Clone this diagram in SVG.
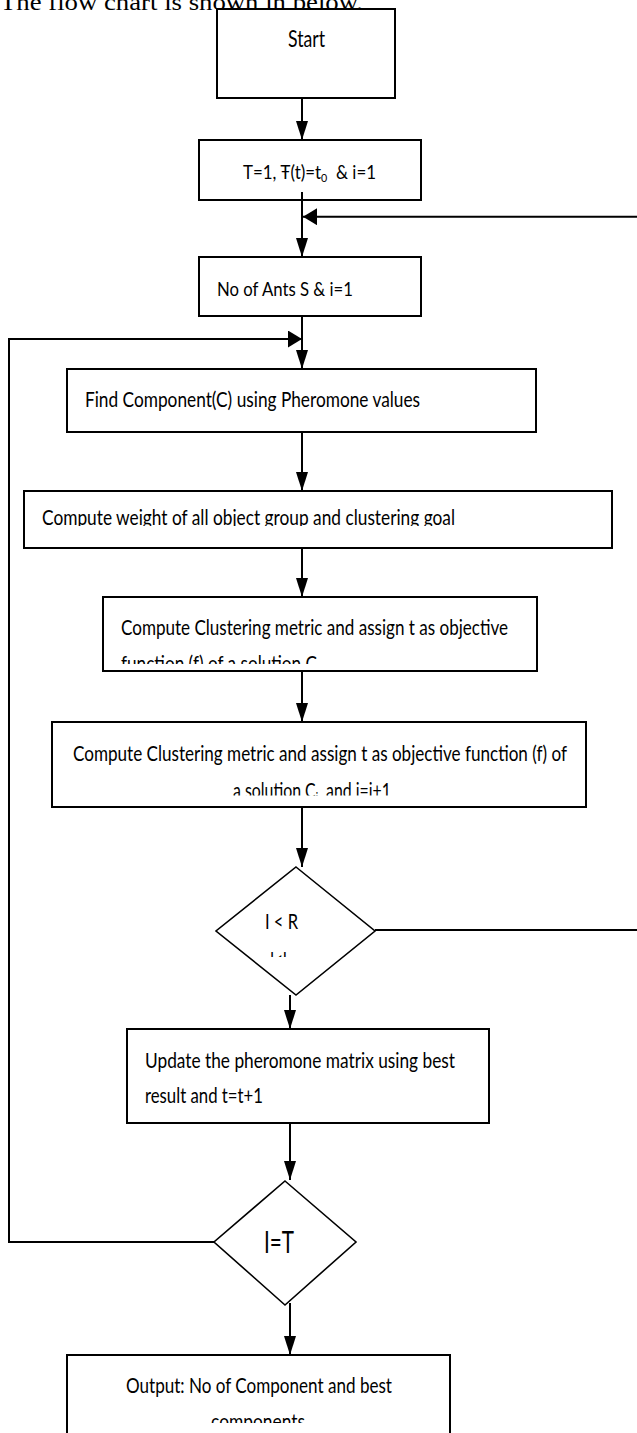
<svg xmlns="http://www.w3.org/2000/svg" width="637" height="1433" viewBox="0 0 637 1433">
<style>
.box{fill:#fff;stroke:#000;stroke-width:2}
.dia{fill:#fff;stroke:#000;stroke-width:1.6}
.t{font-family:Lato,"Liberation Sans",sans-serif;fill:#000}
.con{fill:none;stroke:#000;stroke-width:2}
</style>
<defs>
<marker id="av" markerWidth="19" markerHeight="12" refX="19" refY="6" orient="auto" markerUnits="userSpaceOnUse"><path d="M0,0 L19,6 L0,12 z" fill="#000"/></marker>
<marker id="ah" markerWidth="14" markerHeight="17" refX="14" refY="8.5" orient="auto" markerUnits="userSpaceOnUse"><path d="M0,0 L14,8.5 L0,17 z" fill="#000"/></marker>
<clipPath id="cCW"><rect x="24" y="491" width="588" height="35"/></clipPath>
<clipPath id="cB1"><rect x="100" y="597" width="440" height="67"/></clipPath>
<clipPath id="cB2"><rect x="50" y="722" width="540" height="73.5"/></clipPath>
<clipPath id="cD1"><rect x="216" y="867" width="160" height="90"/></clipPath>
<clipPath id="cOut"><rect x="67" y="1355" width="384" height="68"/></clipPath>
</defs>
<text x="0" y="10" font-family="'Liberation Serif',serif" font-size="24" textLength="363" lengthAdjust="spacingAndGlyphs">The flow chart is shown in below.</text>
<g id="connectors">
<path class="con" d="M302,98 V140" marker-end="url(#av)"/>
<path class="con" d="M302,192 V257" marker-end="url(#av)"/>
<path class="con" d="M375,930 H660 V216.7 H303" marker-end="url(#ah)"/>
<path class="con" d="M302,316 V369" marker-end="url(#av)"/>
<path class="con" d="M214,1242 H9 V339 H302" marker-end="url(#ah)"/>
<path class="con" d="M302,432 V491" marker-end="url(#av)"/>
<path class="con" d="M302,548 V597" marker-end="url(#av)"/>
<path class="con" d="M302,671 V722" marker-end="url(#av)"/>
<path class="con" d="M302,807 V867" marker-end="url(#av)"/>
<path class="con" d="M290,995 V1029" marker-end="url(#av)"/>
<path class="con" d="M290,1123 V1180" marker-end="url(#av)"/>
<path class="con" d="M290,1303 V1355" marker-end="url(#av)"/>
</g>
<g id="start">
<rect class="box" x="217" y="9" width="178" height="89"/>
<text class="t" x="288" y="47" font-size="23" textLength="37" lengthAdjust="spacingAndGlyphs">Start</text>
</g>
<g id="init">
<rect class="box" x="199" y="140" width="222" height="60"/>
<text class="t" x="243" y="179" font-size="19" textLength="133" lengthAdjust="spacingAndGlyphs">T=1, Ŧ(t)=t<tspan font-size="12" dy="3">0</tspan><tspan dy="-3" xml:space="preserve">  &amp; i=1</tspan></text>
</g>
<line class="con" x1="302" y1="192" x2="302" y2="200"/>
<g id="ants">
<rect class="box" x="199" y="257" width="222" height="59"/>
<text class="t" x="217" y="296" font-size="19" textLength="136" lengthAdjust="spacingAndGlyphs">No of Ants S &amp; i=1</text>
</g>
<g id="find">
<rect class="box" x="67" y="369" width="469" height="63"/>
<text class="t" x="85" y="407" font-size="21" textLength="335" lengthAdjust="spacingAndGlyphs">Find Component(C) using Pheromone values</text>
</g>
<g id="weight">
<rect class="box" x="24" y="491" width="588" height="57"/>
<text class="t" x="42" y="525" font-size="21" textLength="413" lengthAdjust="spacingAndGlyphs" clip-path="url(#cCW)">Compute weight of all object group and clustering goal</text>
</g>
<g id="metric1">
<rect class="box" x="103" y="597" width="434" height="74"/>
<text class="t" x="121" y="635" font-size="21" textLength="387" lengthAdjust="spacingAndGlyphs">Compute Clustering metric and assign t as objective</text>
<text class="t" x="121" y="671" font-size="21" textLength="196" lengthAdjust="spacingAndGlyphs" clip-path="url(#cB1)">function (f) of a solution C</text>
</g>
<g id="metric2">
<rect class="box" x="52" y="722" width="534" height="85"/>
<text class="t" x="73" y="761" font-size="21" textLength="494" lengthAdjust="spacingAndGlyphs">Compute Clustering metric and assign t as objective function (f) of</text>
<text class="t" x="233" y="798" font-size="21" textLength="158" lengthAdjust="spacingAndGlyphs" clip-path="url(#cB2)">a solution C<tspan font-size="13" dy="4">i</tspan><tspan dy="-4" xml:space="preserve">  and i=i+1</tspan></text>
</g>
<g id="cond1">
<polygon class="dia" points="296,867 375,931 296,995 216,931"/>
<text class="t" x="265" y="929" font-size="22" textLength="33" lengthAdjust="spacingAndGlyphs">I &lt; R</text>
<text class="t" x="270" y="967" font-size="22" textLength="17" lengthAdjust="spacingAndGlyphs" clip-path="url(#cD1)">I&lt;I</text>
</g>
<g id="update">
<rect class="box" x="127" y="1029" width="362" height="94"/>
<text class="t" x="145" y="1068" font-size="22" textLength="310" lengthAdjust="spacingAndGlyphs">Update the pheromone matrix using best</text>
<text class="t" x="145" y="1103" font-size="22" textLength="118" lengthAdjust="spacingAndGlyphs">result and t=t+1</text>
</g>
<g id="cond2">
<polygon class="dia" points="285,1181 356,1242 285,1305 214,1242"/>
<text class="t" x="264" y="1253" font-size="30" textLength="30" lengthAdjust="spacingAndGlyphs">I=T</text>
</g>
<g id="output">
<rect class="box" x="67" y="1355" width="383" height="100"/>
<text class="t" x="126" y="1393" font-size="22" textLength="266" lengthAdjust="spacingAndGlyphs">Output: No of Component and best</text>
<text class="t" x="211" y="1429" font-size="22" textLength="94" lengthAdjust="spacingAndGlyphs" clip-path="url(#cOut)">components</text>
</g>
</svg>
